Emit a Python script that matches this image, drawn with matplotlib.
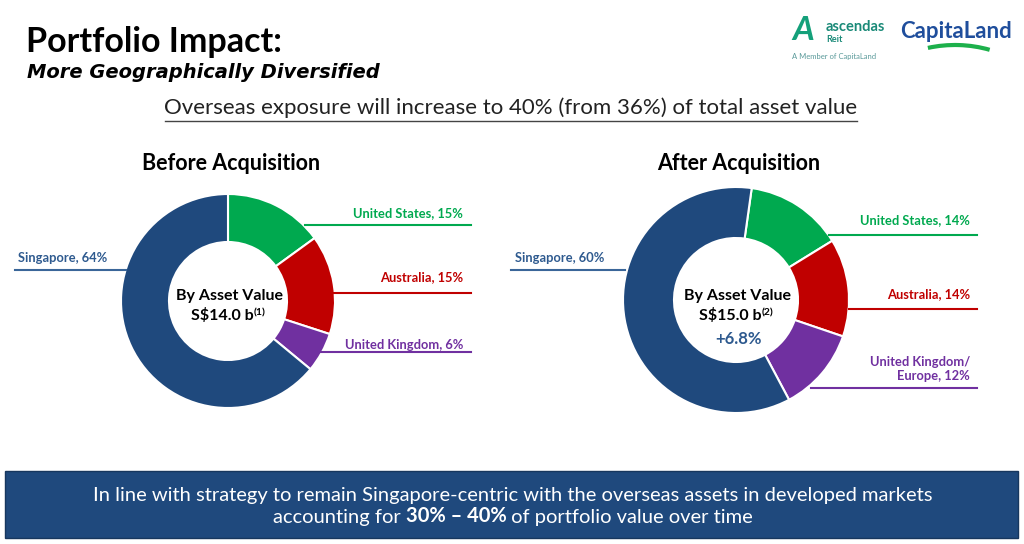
import matplotlib.pyplot as plt
from matplotlib.patches import Rectangle, Arc

plt.rcParams['font.family'] = ['Lato', 'DejaVu Sans']

# datos de las dos tartas
regiones_antes = ['United States', 'Australia', 'United Kingdom', 'Singapore']
valores_antes = [15, 15, 6, 64]
regiones_despues = ['United States', 'Australia', 'United Kingdom/\nEurope', 'Singapore']
valores_despues = [14, 14, 12, 60]
colores = ['#00a94f', '#c00000', '#7030a0', '#1f497d']
color_textos = ['#00a94f', '#c00000', '#7030a0', '#2e5a8f']

total_antes = 'S$14.0 b'
total_despues = 'S$15.0 b'
cambio = '+6.8%'

W, H = 1024, 544


def Y(y):
    # pasamos de coordenadas de pixel (arriba=0) a las del eje
    return H - y


fig = plt.figure(figsize=(10.24, 5.44), dpi=100)
ax = fig.add_axes([0, 0, 1, 1])

# --- cabecera ---
ax.text(26, Y(42), 'Portfolio Impact:', fontsize=24.5, fontweight='bold',
        ha='left', va='center', color='black')
ax.text(27, Y(72), 'More Geographically Diversified', fontsize=14,
        fontweight='bold', style='italic', ha='left', va='center', color='black',
        family='DejaVu Sans')
ax.text(511, Y(108), 'Overseas exposure will increase to 40% (from 36%) of total asset value',
        fontsize=16, ha='center', va='center', color='#222222')
ax.plot([165, 857], [Y(121), Y(121)], color='#444444', lw=1)

# --- logos (aproximados con texto) ---
ax.text(803, Y(31), 'A', fontsize=24, style='italic', color='#14a07a',
        ha='center', va='center', fontweight='bold')
ax.text(826, Y(27), 'ascendas', fontsize=10.5, fontweight='bold',
        color='#1a8a78', ha='left', va='center')
ax.text(826, Y(40), 'Reit', fontsize=6.5, fontweight='bold',
        color='#1a8a78', ha='left', va='center')
ax.text(792, Y(56), 'A Member of CapitaLand', fontsize=5.5,
        color='#5a9a9a', ha='left', va='center')
ax.text(956, Y(32), 'CapitaLand', fontsize=16, fontweight='bold', color='#1f4e9c',
        ha='center', va='center')
ax.add_patch(Arc((955, Y(115)), 190, 140, theta1=62, theta2=112,
                 color='#1db04b', lw=3))

# --- tartas ---
donuts = [
    (regiones_antes, valores_antes, (228, Y(301)), 107, 48, 90, 'Before Acquisition'),
    (regiones_despues, valores_despues, (736, Y(300)), 113, 51, 82, 'After Acquisition'),
]
for regiones, valores, centro, r, ancho, inicio, titulo in donuts:
    ax.pie(valores, colors=colores, center=centro, radius=r, startangle=inicio,
           counterclock=False, frame=True,
           wedgeprops=dict(width=ancho, edgecolor='white', linewidth=1.5))
    ax.text(centro[0] + 3, Y(163), titulo, fontsize=15.5, fontweight='bold',
            ha='center', va='center', color='black')

# etiquetas con sus lineas (antes)
etq_antes = [
    (463, 213, 305, 471, 225),
    (463, 277, 334, 471, 293),
    (463, 345, 320, 471, 352),
]
for i, (xt, yt, x0, x1, yl) in enumerate(etq_antes):
    ax.text(xt, Y(yt), f'{regiones_antes[i]}, {valores_antes[i]}%', fontsize=9.3,
            fontweight='bold', color=color_textos[i], ha='right', va='center')
    ax.plot([x0, x1], [Y(yl), Y(yl)], color=colores[i], lw=1.5)
ax.text(18, Y(258), f'{regiones_antes[3]}, {valores_antes[3]}%', fontsize=9.3,
        fontweight='bold', color=color_textos[3], ha='left', va='center')
ax.plot([15, 126], [Y(270), Y(270)], color='#3a6699', lw=1.5)

# etiquetas (despues)
etq_despues = [
    (970, 220, 829, 977, 235),
    (970, 294, 849, 977, 309),
    (970, 369, 811, 977, 388),
]
for i, (xt, yt, x0, x1, yl) in enumerate(etq_despues):
    ax.text(xt, Y(yt), f'{regiones_despues[i]}, {valores_despues[i]}%', fontsize=9.3,
            fontweight='bold', color=color_textos[i], ha='right', va='center',
            linespacing=1.3)
    ax.plot([x0, x1], [Y(yl), Y(yl)], color=colores[i], lw=1.5)
ax.text(515, Y(258), f'{regiones_despues[3]}, {valores_despues[3]}%', fontsize=9.3,
        fontweight='bold', color=color_textos[3], ha='left', va='center')
ax.plot([511, 625], [Y(270), Y(270)], color='#3a6699', lw=1.5)

# textos del centro
for cx, total, nota in [(228, total_antes, '(1)'), (736, total_despues, '(2)')]:
    ax.text(cx + 1, Y(296), 'By Asset Value', fontsize=11.5, fontweight='bold',
            ha='center', va='center', color='black')
    t = ax.text(cx - 6, Y(315), total.replace('$', r'\$'), fontsize=11.5,
                fontweight='bold', ha='center', va='center', color='black')
    ax.annotate(nota, xy=(1, 1), xycoords=t, xytext=(0.5, -1),
                textcoords='offset points', fontsize=7.5, fontweight='bold',
                ha='left', va='top', color='black')
ax.text(738, Y(339), cambio, fontsize=12, fontweight='bold',
        ha='center', va='center', color='#2e5a8f')

# --- caja inferior ---
ax.add_patch(Rectangle((5, Y(538)), 1013, 67, facecolor='#1f497d',
                       edgecolor='#17375e', lw=1))
ax.text(513, Y(495), 'In line with strategy to remain Singapore-centric with the overseas '
        'assets in developed markets', fontsize=14.5, color='white',
        ha='center', va='center')
t1 = ax.text(280, Y(517), 'accounting for ', fontsize=14.5, color='white',
             ha='left', va='center')
t2 = ax.annotate('30% \u2013 40%', xy=(1, 0), xycoords=t1, fontsize=14.5,
                 fontweight='bold', color='white', ha='left', va='bottom')
t3 = ax.annotate(' of portfolio value over time', xy=(1, 0), xycoords=t2,
                 fontsize=14.5, color='white', ha='left', va='bottom')

ax.set_xlim(0, W)
ax.set_ylim(0, H)
ax.set_aspect('equal')
ax.axis('off')

# centramos la segunda linea de la caja
fig.canvas.draw()
r = fig.canvas.get_renderer()
izq = t1.get_window_extent(r).x0
der = t3.get_window_extent(r).x1
t1.set_x(t1.get_position()[0] + (513 - (izq + der) / 2))

fig.savefig('out.png', dpi=100, facecolor='white')
